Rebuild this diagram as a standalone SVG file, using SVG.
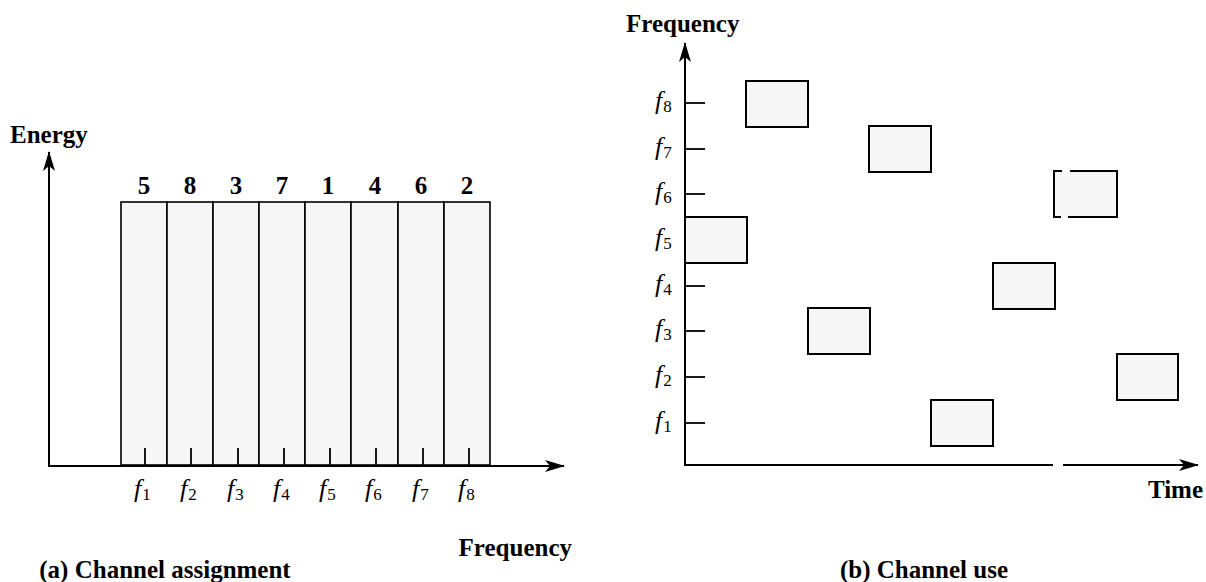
<svg xmlns="http://www.w3.org/2000/svg" width="1206" height="582" viewBox="0 0 1206 582">
<style>
.ax{stroke:#000;stroke-width:2;fill:none}
.bar{fill:#f6f6f6;stroke:#000;stroke-width:1.6}
.box{fill:#f6f6f6;stroke:#000;stroke-width:2}
.tk{stroke:#000;stroke-width:1.8}
.lb{font-family:"Liberation Serif",serif;font-weight:bold;font-size:25px;fill:#000}
.num{font-family:"Liberation Serif",serif;font-weight:bold;font-size:25px;fill:#000;text-anchor:middle}
.fl{font-family:"Liberation Serif",serif;font-style:italic;font-size:26px;fill:#000}
.sub{font-style:normal;font-size:17px}
</style>
<defs>
<marker id="ah" viewBox="0 0 20 12" refX="19" refY="6" markerWidth="20" markerHeight="12" markerUnits="userSpaceOnUse" orient="auto">
<path d="M0,0 L20,6 L0,12 L5,6 Z" fill="#000"/>
</marker>
</defs>

<g id="panel-a">
<g id="bars">
<rect class="bar" x="121" y="202" width="46" height="263"/>
<rect class="bar" x="167" y="202" width="46" height="263"/>
<rect class="bar" x="213" y="202" width="46" height="263"/>
<rect class="bar" x="259" y="202" width="46" height="263"/>
<rect class="bar" x="305" y="202" width="46" height="263"/>
<rect class="bar" x="351" y="202" width="47" height="263"/>
<rect class="bar" x="398" y="202" width="46" height="263"/>
<rect class="bar" x="444" y="202" width="46" height="263"/>
</g>
<g id="bar-numbers">
<text class="num" x="144" y="194">5</text>
<text class="num" x="190" y="194">8</text>
<text class="num" x="236" y="194">3</text>
<text class="num" x="282" y="194">7</text>
<text class="num" x="328" y="194">1</text>
<text class="num" x="375" y="194">4</text>
<text class="num" x="421" y="194">6</text>
<text class="num" x="467" y="194">2</text>
</g>
<g id="ticks-a">
<line class="tk" x1="145" y1="448" x2="145" y2="465"/>
<line class="tk" x1="191" y1="448" x2="191" y2="465"/>
<line class="tk" x1="238" y1="448" x2="238" y2="465"/>
<line class="tk" x1="284" y1="448" x2="284" y2="465"/>
<line class="tk" x1="330" y1="448" x2="330" y2="465"/>
<line class="tk" x1="376" y1="448" x2="376" y2="465"/>
<line class="tk" x1="423" y1="448" x2="423" y2="465"/>
<line class="tk" x1="469" y1="448" x2="469" y2="465"/>
</g>
<g id="flabels-a">
<text class="fl" x="134" y="497">f<tspan class="sub" dx="1" dy="3">1</tspan></text>
<text class="fl" x="180" y="497">f<tspan class="sub" dx="1" dy="3">2</tspan></text>
<text class="fl" x="227" y="497">f<tspan class="sub" dx="1" dy="3">3</tspan></text>
<text class="fl" x="273" y="497">f<tspan class="sub" dx="1" dy="3">4</tspan></text>
<text class="fl" x="319" y="497">f<tspan class="sub" dx="1" dy="3">5</tspan></text>
<text class="fl" x="365" y="497">f<tspan class="sub" dx="1" dy="3">6</tspan></text>
<text class="fl" x="412" y="497">f<tspan class="sub" dx="1" dy="3">7</tspan></text>
<text class="fl" x="458" y="497">f<tspan class="sub" dx="1" dy="3">8</tspan></text>
</g>
<text class="lb" x="10" y="143">Energy</text>
<text class="lb" x="572" y="556" text-anchor="end">Frequency</text>
<text class="lb" x="165" y="578" text-anchor="middle">(a) Channel assignment</text>
</g>

<g id="panel-b">
<g id="ticks-b">
<line class="tk" x1="685" y1="103" x2="705" y2="103"/>
<line class="tk" x1="685" y1="149" x2="705" y2="149"/>
<line class="tk" x1="685" y1="194" x2="705" y2="194"/>
<line class="tk" x1="685" y1="286" x2="705" y2="286"/>
<line class="tk" x1="685" y1="331" x2="705" y2="331"/>
<line class="tk" x1="685" y1="377" x2="705" y2="377"/>
<line class="tk" x1="685" y1="423" x2="705" y2="423"/>
</g>
<g id="channel-boxes">
<rect class="box" x="685" y="217" width="62" height="46"/>
<rect class="box" x="746" y="81" width="62" height="46"/>
<rect class="box" x="808" y="308" width="62" height="46"/>
<rect class="box" x="869" y="126" width="62" height="46"/>
<rect class="box" x="931" y="400" width="62" height="46"/>
<rect class="box" x="993" y="263" width="62" height="46"/>
<g id="box-f6">
<rect x="1054" y="171" width="63" height="46" fill="#f6f6f6"/>
<path class="ax" d="M1062,171 H1054 V217 H1061 M1070,171 H1117 V217 H1068"/>
</g>
<rect class="box" x="1117" y="354" width="61" height="46"/>
</g>
<g id="flabels-b">
<text class="fl" x="655" y="109">f<tspan class="sub" dx="1" dy="3">8</tspan></text>
<text class="fl" x="655" y="155">f<tspan class="sub" dx="1" dy="3">7</tspan></text>
<text class="fl" x="655" y="200">f<tspan class="sub" dx="1" dy="3">6</tspan></text>
<text class="fl" x="655" y="246">f<tspan class="sub" dx="1" dy="3">5</tspan></text>
<text class="fl" x="655" y="292">f<tspan class="sub" dx="1" dy="3">4</tspan></text>
<text class="fl" x="655" y="337">f<tspan class="sub" dx="1" dy="3">3</tspan></text>
<text class="fl" x="655" y="383">f<tspan class="sub" dx="1" dy="3">2</tspan></text>
<text class="fl" x="655" y="429">f<tspan class="sub" dx="1" dy="3">1</tspan></text>
</g>
<text class="lb" x="626" y="32">Frequency</text>
<text class="lb" x="1203" y="498" text-anchor="end">Time</text>
<text class="lb" x="924" y="578" text-anchor="middle">(b) Channel use</text>
</g>

<g id="connectors">
<line class="ax" x1="49" y1="466" x2="49" y2="152" marker-end="url(#ah)"/>
<line class="ax" x1="48" y1="466" x2="564" y2="466" marker-end="url(#ah)"/>
<line class="ax" x1="685" y1="466" x2="685" y2="43" marker-end="url(#ah)"/>
<line class="ax" x1="684" y1="465" x2="1053" y2="465"/>
<line class="ax" x1="1063" y1="465" x2="1198" y2="465" marker-end="url(#ah)"/>
</g>
</svg>
